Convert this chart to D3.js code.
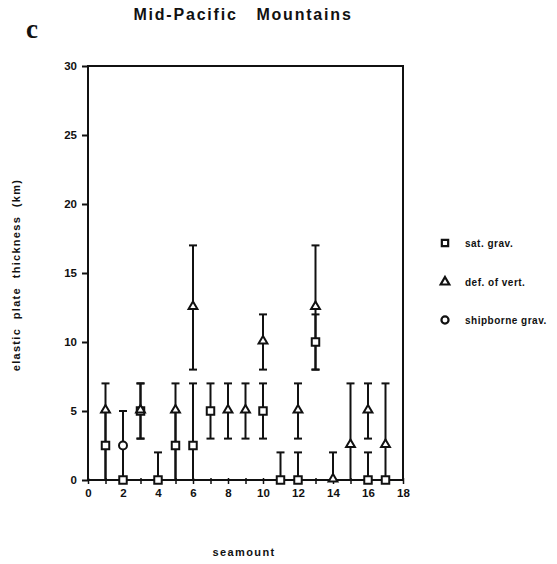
<!DOCTYPE html>
<html><head><meta charset="utf-8">
<script src="https://cdn.jsdelivr.net/npm/d3@7"></script>
<style>
body{margin:0;background:#fff;}
text{font-family:"Liberation Sans",Arial,sans-serif;font-weight:bold;fill:#111;}
</style></head>
<body><svg id="c" width="557" height="564"></svg>
<script>
// seamount index, value, error low, error high
const satSeamount = [1, 2, 3, 4, 5, 6, 7, 10, 11, 12, 13, 16, 17];
const satValue    = [2.5, 0, 5, 0, 2.5, 2.5, 5, 5, 0, 0, 10, 0, 0];
const satLow      = [0, 0, 3, 0, 0, 0, 3, 3, 0, 0, 8, 0, 0];
const satHigh     = [5, 0, 7, 2, 5, 7, 7, 7, 2, 2, 12, 2, 0];

const defSeamount = [1, 3, 5, 6, 8, 9, 10, 12, 13, 14, 15, 16, 17];
const defValue    = [5, 5, 5, 12.5, 5, 5, 10, 5, 12.5, 0, 2.5, 5, 2.5];
const defLow      = [0, 3, 0, 8, 3, 3, 8, 3, 8, 0, 0, 3, 0];
const defHigh     = [7, 7, 7, 17, 7, 7, 12, 7, 17, 2, 7, 7, 7];

const shipSeamount = [2];
const shipValue    = [2.5];
const shipLow      = [0];
const shipHigh     = [5];

const xTicks = [0, 2, 4, 6, 8, 10, 12, 14, 16, 18];
const yTicks = [0, 5, 10, 15, 20, 25, 30];
const legendLabels = ["sat. grav.", "def. of vert.", "shipborne grav."];

const svg = d3.select("#c");
const x = d3.scaleLinear().domain([0, 18]).range([88, 403]);
const y = d3.scaleLinear().domain([0, 30]).range([480, 66]);

// frame
svg.append("rect").attr("x", 88).attr("y", 66).attr("width", 315).attr("height", 414)
  .attr("fill", "none").attr("stroke", "#111").attr("stroke-width", 2);

// y axis
const ya = svg.append("g").attr("transform", "translate(88,0)")
  .call(d3.axisLeft(y).tickValues(yTicks).tickSize(6).tickPadding(5));
ya.select(".domain").remove();
ya.selectAll("line").attr("stroke", "#111").attr("stroke-width", 2);
ya.selectAll("text").attr("font-size", 11.5).style("font-family", "Liberation Sans, Arial").style("font-weight", "bold");

// x axis: minor ticks at every integer, labels at even
const xa = svg.append("g").attr("transform", "translate(0,480)")
  .call(d3.axisBottom(x).tickValues(d3.range(0, 19)).tickSize(4).tickPadding(5)
    .tickFormat(d => xTicks.includes(d) ? d : ""));
xa.select(".domain").remove();
xa.selectAll("line").attr("stroke", "#111").attr("stroke-width", 1.5).attr("y1", -2);
xa.selectAll("text").attr("font-size", 11.5).style("font-family", "Liberation Sans, Arial").style("font-weight", "bold");

// error bars
function errorBars(sx, lo, hi) {
  const g = svg.append("g").attr("stroke", "#111").attr("stroke-width", 2);
  sx.forEach((s, i) => {
    if (hi[i] === lo[i]) return;
    g.append("line").attr("x1", x(s)).attr("x2", x(s)).attr("y1", y(lo[i])).attr("y2", y(hi[i]));
    [lo[i], hi[i]].forEach(v => {
      g.append("line").attr("x1", x(s) - 4).attr("x2", x(s) + 4).attr("y1", y(v)).attr("y2", y(v));
    });
  });
}
errorBars(satSeamount, satLow, satHigh);
errorBars(defSeamount, defLow, defHigh);
errorBars(shipSeamount, shipLow, shipHigh);

const symSq = d3.symbol().type(d3.symbolSquare).size(56);
const symTri = d3.symbol().type(d3.symbolTriangle).size(34);
const symCir = d3.symbol().type(d3.symbolCircle).size(50);

function markers(sx, vals, sym, dy) {
  svg.append("g").selectAll("path").data(sx).join("path")
    .attr("d", sym)
    .attr("transform", (d, i) => `translate(${x(d)},${y(vals[i]) + (dy||0)})`)
    .attr("fill", "#fff").attr("stroke", "#111").attr("stroke-width", 2);
}
markers(shipSeamount, shipValue, symCir);
markers(satSeamount, satValue, symSq);
markers(defSeamount, defValue, symTri, -1);

// legend
const legY = [243, 282, 320];
legendLabels.forEach((t, i) => {
  svg.append("path").attr("d", d3.symbol().type([d3.symbolSquare, d3.symbolTriangle, d3.symbolCircle][i]).size([40, 32, 40][i]))
    .attr("transform", `translate(445,${legY[i]})`).attr("fill", "#fff").attr("stroke", "#111").attr("stroke-width", 2.2);
  svg.append("text").attr("x", 465).attr("y", legY[i] + 3.5).attr("font-size", 10)
    .attr("letter-spacing", 0.5).text(t);
});

// titles
svg.append("text").attr("x", 243).attr("y", 20).attr("text-anchor", "middle").attr("font-size", 16)
  .attr("letter-spacing", 1.8).attr("xml:space", "preserve").text("Mid-Pacific   Mountains");
svg.append("text").attr("x", 26).attr("y", 38).attr("font-size", 27)
  .style("font-family", "Liberation Serif, serif").text("c");
svg.append("text").attr("transform", "translate(20,275) rotate(-90)").attr("text-anchor", "middle")
  .attr("font-size", 11).attr("letter-spacing", 1.3).attr("xml:space", "preserve").text("elastic  plate  thickness  (km)");
svg.append("text").attr("x", 244).attr("y", 556).attr("text-anchor", "middle").attr("font-size", 11)
  .attr("letter-spacing", 1.4).text("seamount");
</script></body></html>
